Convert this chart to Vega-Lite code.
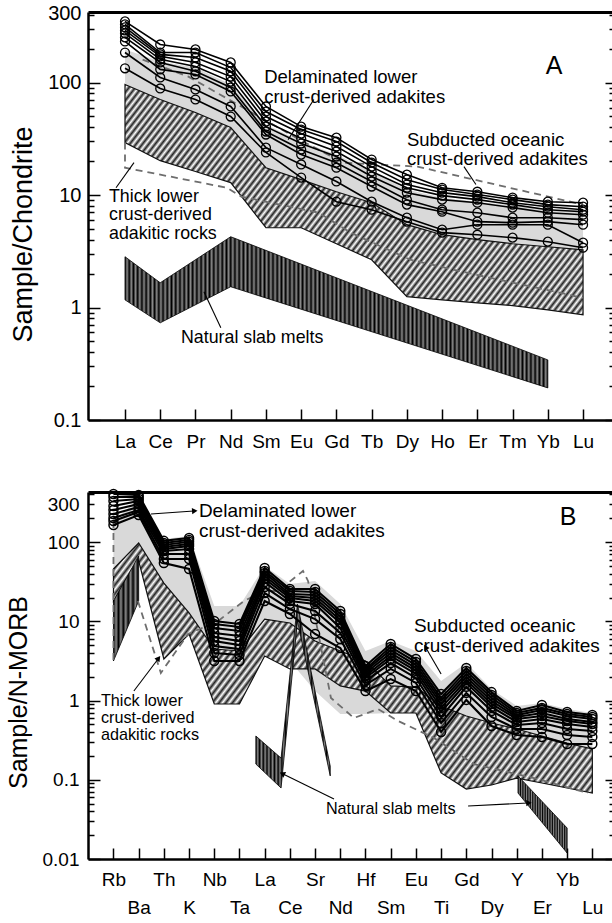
{
"$schema": "https://vega.github.io/schema/vega-lite/v6.json",
"padding": {"left": 6, "top": 3, "right": 0, "bottom": 0},
"spacing": 34,
"config": {"view": {"stroke": null}, "font": "Liberation Sans",
  "axis": {"grid": false, "labelFont": "Liberation Sans", "titleFont": "Liberation Sans", "labelColor": "#000", "titleColor": "#000", "domainColor": "#000", "tickColor": "#000", "titleFontWeight": "normal", "zindex": 1, "labelOverlap": false, "labelFlush": false}},
"datasets": {
 "aS": [
  {"i":1,"el":"La","s1":350,"s2":329,"s3":310,"s4":291,"s5":274,"s6":252,"s7":232,"s8":185,"s9":134},
  {"i":2,"el":"Ce","s1":218,"s2":185,"s3":178,"s4":171,"s5":161,"s6":151,"s7":131,"s8":111,"s9":88.6},
  {"i":3,"el":"Pr","s1":197,"s2":185,"s3":167,"s4":151,"s5":139,"s6":126,"s7":118,"s8":86.8,"s9":70.7},
  {"i":4,"el":"Nd","s1":151,"s2":136,"s3":126,"s4":113,"s5":102,"s6":90.4,"s7":83.3,"s8":61.3,"s9":49.9},
  {"i":5,"el":"Sm","s1":61.3,"s2":55.3,"s3":49.9,"s4":45,"s5":40.6,"s6":36.7,"s7":34.5,"s8":26.4,"s9":23.9},
  {"i":6,"el":"Eu","s1":40.6,"s2":38.2,"s3":35.2,"s4":31.8,"s5":28.7,"s6":25.4,"s7":22.9,"s8":18.7,"s9":14.3},
  {"i":7,"el":"Gd","s1":32.4,"s2":29.9,"s3":27,"s4":24.4,"s5":22,"s6":19.4,"s7":17.5,"s8":13.2,"s9":8.73},
  {"i":8,"el":"Tb","s1":20.7,"s2":19.4,"s3":17.9,"s4":16.2,"s5":14.6,"s6":13.2,"s7":11.9,"s8":8.73,"s9":7.41},
  {"i":9,"el":"Dy","s1":15.2,"s2":13.7,"s3":12.4,"s4":11.6,"s5":10.5,"s6":9.1,"s7":8.22,"s8":6.29,"s9":5.8},
  {"i":10,"el":"Ho","s1":11.6,"s2":11.2,"s3":10.5,"s4":9.88,"s5":9.1,"s6":7.41,"s7":7.11,"s8":4.92,"s9":4.63},
  {"i":11,"el":"Er","s1":10.7,"s2":10.1,"s3":9.68,"s4":9.1,"s5":8.55,"s6":6.97,"s7":5.8,"s8":5.45,"s9":4.44},
  {"i":12,"el":"Tm","s1":9.48,"s2":9.1,"s3":8.55,"s4":8.22,"s5":7.73,"s6":6.29,"s7":5.68,"s8":5.45,"s9":4.18},
  {"i":13,"el":"Yb","s1":8.73,"s2":8.22,"s3":7.88,"s4":7.41,"s5":6.97,"s6":6.29,"s7":5.8,"s8":5.45,"s9":3.85},
  {"i":14,"el":"Lu","s1":8.55,"s2":7.88,"s3":7.41,"s4":7.11,"s5":6.69,"s6":6.04,"s7":5.45,"s8":3.77,"s9":3.4}
 ],
 "aGray": [
  {"i":1,"v":197,"v2":96.2},{"i":2,"v":154,"v2":70.7},{"i":3,"v":136,"v2":54.2},{"i":4,"v":96.2,"v2":39.8},
  {"i":5,"v":42.4,"v2":17.5},{"i":6,"v":29.9,"v2":13.7},{"i":7,"v":22.9,"v2":10.7},{"i":8,"v":16.2,"v2":8.55},
  {"i":9,"v":11.2,"v2":5.45},{"i":10,"v":9.48,"v2":4.44},{"i":11,"v":8.73,"v2":4.01},{"i":12,"v":8.05,"v2":3.69},
  {"i":13,"v":7.41,"v2":3.47},{"i":14,"v":7.41,"v2":3.26}
 ],
 "aHatch": [
  {"i":1,"v":96.2,"v2":29.3},{"i":2,"v":70.7,"v2":20.2},{"i":3,"v":54.2,"v2":16.2},{"i":4,"v":39.8,"v2":12.9},
  {"i":5,"v":17.5,"v2":5.12},{"i":6,"v":13.7,"v2":5.12},{"i":7,"v":10.7,"v2":3.69},{"i":8,"v":8.55,"v2":2.66},
  {"i":9,"v":5.45,"v2":1.25},{"i":10,"v":4.44,"v2":1.17},{"i":11,"v":4.01,"v2":1.1},{"i":12,"v":3.69,"v2":1.04},
  {"i":13,"v":3.47,"v2":0.953},{"i":14,"v":3.26,"v2":0.861}
 ],
 "aSlab": [
  {"i":1,"v":2.83,"v2":1.17},{"i":2,"v":1.66,"v2":0.731},{"i":4,"v":4.26,"v2":1.53},{"i":13,"v":0.342,"v2":0.193}
 ],
 "aDash": [
  {"p":1,"o":1,"i":1,"v":29.3},{"p":1,"o":2,"i":1,"v":17.5},{"p":1,"o":3,"i":3.9,"v":11.6},{"p":1,"o":4,"i":4.3,"v":9.68},
  {"p":1,"o":5,"i":6.5,"v":6.97},{"p":1,"o":6,"i":7.4,"v":4.63},{"p":1,"o":7,"i":9.1,"v":2.66},{"p":1,"o":8,"i":10.7,"v":2.04},
  {"p":1,"o":9,"i":14,"v":1.22},
  {"p":2,"o":1,"i":1.5,"v":160},{"p":2,"o":2,"i":2.8,"v":113},{"p":2,"o":3,"i":6,"v":30.5},{"p":2,"o":4,"i":7.2,"v":19.4},
  {"p":2,"o":5,"i":9.3,"v":17.9},{"p":2,"o":6,"i":14,"v":8.22}
 ],
 "aText1": [
  {"i":4.95,"v":111,"t":"Delaminated lower"},
  {"i":4.95,"v":74.4,"t":"crust-derived adakites"},
  {"i":9.0,"v":31.1,"t":"Subducted oceanic"},
  {"i":9.0,"v":21.1,"t":"crust-derived adakites"}
 ],
 "aText2": [
  {"i":0.546,"v":9.68,"t":"Thick lower"},
  {"i":0.546,"v":6.6,"t":"crust-derived"},
  {"i":0.546,"v":4.48,"t":"adakitic rocks"},
  {"i":2.59,"v":0.537,"t":"Natural slab melts"}
 ],
 "aRule": [
  {"i":6.36,"v":70.7,"i2":5.63,"v2":31.1},
  {"i":10.62,"v":17.9,"i2":10.96,"v2":12.4},
  {"i":0.745,"v":11.6,"i2":1.255,"v2":19.4},
  {"i":3.72,"v":0.66,"i2":3.24,"v2":1.38}
 ],
 "bS": [
  {"i":1,"el":"Rb","s1":406,"s2":372,"s3":331,"s4":286,"s5":255,"s6":227,"s7":202,"s8":185,"s9":165},
  {"i":2,"el":"Ba","s1":394,"s2":372,"s3":351,"s4":331,"s5":303,"s6":278,"s7":255,"s8":241,"s9":220},
  {"i":3,"el":"Th","s1":104,"s2":97.7,"s3":92.2,"s4":87,"s5":82,"s6":77.4,"s7":71,"s8":61.4,"s9":54.6},
  {"i":4,"el":"K","s1":113,"s2":107,"s3":101,"s4":94.9,"s5":89.5,"s6":82,"s7":71,"s8":61.4,"s9":45.9},
  {"i":5,"el":"Nb","s1":10.1,"s2":9.27,"s3":8.26,"s4":7.14,"s5":6.35,"s6":5.66,"s7":4.89,"s8":3.99,"s9":3.16},
  {"i":6,"el":"Ta","s1":9.27,"s2":8.5,"s3":7.57,"s4":6.54,"s5":5.66,"s6":5.03,"s7":4.48,"s8":3.77,"s9":3.16},
  {"i":7,"el":"La","s1":47.2,"s2":43.3,"s3":40.8,"s4":37.4,"s5":34.3,"s6":31.4,"s7":27.2,"s8":22.8,"s9":18.1},
  {"i":8,"el":"Ce","s1":25.6,"s2":24.2,"s3":22.2,"s4":20.9,"s5":19.7,"s6":18.1,"s7":16.6,"s8":14.3,"s9":12.4},
  {"i":9,"el":"Sr","s1":25.6,"s2":23.5,"s3":21.5,"s4":19.7,"s5":18.1,"s6":16.6,"s7":13.5,"s8":10.7,"s9":6.93},
  {"i":10,"el":"Nd","s1":13.5,"s2":12.4,"s3":11.4,"s4":10.4,"s5":9.55,"s6":8.26,"s7":7.14,"s8":6,"s9":4.61},
  {"i":11,"el":"Hf","s1":2.73,"s2":2.51,"s3":2.37,"s4":2.23,"s5":2.05,"s6":1.93,"s7":1.77,"s8":1.57,"s9":1.32},
  {"i":12,"el":"Sm","s1":5.19,"s2":4.75,"s3":4.35,"s4":3.99,"s5":3.66,"s6":3.35,"s7":2.98,"s8":2.51,"s9":1.87},
  {"i":13,"el":"Eu","s1":3.35,"s2":3.07,"s3":2.81,"s4":2.58,"s5":2.37,"s6":2.17,"s7":1.93,"s8":1.67,"s9":1.32},
  {"i":14,"el":"Ti","s1":1.21,"s2":1.08,"s3":0.99,"s4":0.906,"s5":0.808,"s6":0.718,"s7":0.621,"s8":0.521,"s9":0.402},
  {"i":15,"el":"Gd","s1":2.58,"s2":2.37,"s3":2.17,"s4":1.99,"s5":1.82,"s6":1.67,"s7":1.49,"s8":1.25,"s9":1.02},
  {"i":16,"el":"Dy","s1":1.28,"s2":1.18,"s3":1.08,"s4":0.99,"s5":0.906,"s6":0.83,"s7":0.74,"s8":0.621,"s9":0.478},
  {"i":17,"el":"Y","s1":0.74,"s2":0.697,"s3":0.657,"s4":0.621,"s5":0.586,"s6":0.537,"s7":0.492,"s8":0.438,"s9":0.368},
  {"i":18,"el":"Er","s1":0.879,"s2":0.808,"s3":0.76,"s4":0.697,"s5":0.64,"s6":0.586,"s7":0.521,"s8":0.438,"s9":0.347},
  {"i":19,"el":"Yb","s1":0.718,"s2":0.677,"s3":0.64,"s4":0.586,"s5":0.552,"s6":0.507,"s7":0.438,"s8":0.368,"s9":0.283},
  {"i":20,"el":"Lu","s1":0.657,"s2":0.621,"s3":0.586,"s4":0.537,"s5":0.507,"s6":0.465,"s7":0.413,"s8":0.347,"s9":0.283}
 ],
 "bGray": [
  {"i":1,"v":185,"v2":18.1},{"i":2,"v":351,"v2":57.9},{"i":3,"v":110,"v2":18.1},{"i":4,"v":120,"v2":7.56},
  {"i":5,"v":15.6,"v2":2.73},{"i":6,"v":15.6,"v2":2.73},{"i":7,"v":50.1,"v2":5.66},{"i":8,"v":29.7,"v2":3.16},
  {"i":9,"v":32.4,"v2":1.32},{"i":10,"v":16.6,"v2":0.677},{"i":11,"v":4.23,"v2":0.677},{"i":12,"v":5.66,"v2":0.697},
  {"i":13,"v":4.23,"v2":0.697},{"i":14,"v":1.77,"v2":0.639},{"i":15,"v":2.98,"v2":0.639},{"i":16,"v":1.4,"v2":0.478},
  {"i":17,"v":0.855,"v2":0.357},{"i":18,"v":0.933,"v2":0.309},{"i":19,"v":0.783,"v2":0.267},{"i":20,"v":0.697,"v2":0.231}
 ],
 "bHatch": [
  {"i":1,"v":45.9,"v2":18.1},{"i":2,"v":97.7,"v2":57.9},{"i":3,"v":30.5,"v2":3.35},{"i":4,"v":12.8,"v2":6.93},
  {"i":5,"v":4.48,"v2":0.906},{"i":6,"v":4.23,"v2":0.906},{"i":7,"v":10.7,"v2":3.66},{"i":8,"v":9.55,"v2":2.51},
  {"i":9,"v":5.66,"v2":2.51},{"i":10,"v":4.23,"v2":1.53},{"i":11,"v":3.16,"v2":1.32},{"i":12,"v":1.53,"v2":0.697},
  {"i":13,"v":1.48,"v2":0.697},{"i":14,"v":0.855,"v2":0.122},{"i":15,"v":0.639,"v2":0.0765},{"i":16,"v":0.521,"v2":0.086},
  {"i":17,"v":0.438,"v2":0.105},{"i":18,"v":0.357,"v2":0.0911},{"i":19,"v":0.291,"v2":0.0788},{"i":20,"v":0.245,"v2":0.0681}
 ],
 "bSlab": [
  {"p":1,"i":1,"v":18.1,"v2":3.16},{"p":1,"i":2,"v":66.9,"v2":18.1},
  {"p":2,"i":6.65,"v":0.357,"v2":0.158},{"p":2,"i":7.65,"v":0.188,"v2":0.0788},{"p":2,"i":8.3,"v":16.6,"v2":10.1},{"p":2,"i":9.6,"v":0.149,"v2":0.112},
  {"p":3,"i":17.05,"v":0.112,"v2":0.0681},{"p":3,"i":19,"v":0.0246,"v2":0.0119}
 ],
 "bDash": [
  {"p":1,"o":1,"i":1,"v":185},{"p":1,"o":2,"i":1,"v":3.16},
  {"p":2,"o":1,"i":1.97,"v":18.1},{"p":2,"o":2,"i":2.88,"v":2.23},{"p":2,"o":3,"i":3.96,"v":6.93},{"p":2,"o":4,"i":5.15,"v":10.1},
  {"p":2,"o":5,"i":6.18,"v":18.1},{"p":2,"o":6,"i":6.97,"v":24.2},{"p":2,"o":7,"i":7.53,"v":24.2},{"p":2,"o":8,"i":8.52,"v":43.3},
  {"p":2,"o":9,"i":8.72,"v":32.4},{"p":2,"o":10,"i":9.63,"v":1.08},{"p":2,"o":11,"i":10.54,"v":0.603},{"p":2,"o":12,"i":11.5,"v":0.783},
  {"p":2,"o":13,"i":12.29,"v":0.553},{"p":2,"o":14,"i":13.72,"v":0.337},{"p":2,"o":15,"i":15.3,"v":0.158},{"p":2,"o":16,"i":17.68,"v":0.105},
  {"p":2,"o":17,"i":19.83,"v":0.0681}
 ],
 "bText1": [
  {"i":4.39,"v":248,"t":"Delaminated lower"},
  {"i":4.39,"v":138,"t":"crust-derived adakites"},
  {"i":12.92,"v":8.75,"t":"Subducted oceanic"},
  {"i":12.92,"v":4.89,"t":"crust-derived adakites"}
 ],
 "bText2": [
  {"i":0.504,"v":0.988,"t":"Thick lower"},
  {"i":0.504,"v":0.603,"t":"crust-derived"},
  {"i":0.504,"v":0.368,"t":"adakitic rocks"},
  {"i":9.43,"v":0.0428,"t":"Natural slab melts"}
 ],
 "bRule": [
  {"i":2.49,"v":227,"i2":4.19,"v2":248},
  {"i":14.0,"v":2.17,"i2":13.4,"v2":4.61},
  {"i":1.81,"v":1.32,"i2":2.77,"v2":3.35},
  {"i":9.75,"v":0.0572,"i2":7.73,"v2":0.118},
  {"i":15.07,"v":0.0467,"i2":17.45,"v2":0.0509}
 ]
},
"vconcat": [
 {
  "width": 525, "height": 408,
  "encoding": {
   "x": {"field": "i", "type": "quantitative", "scale": {"domain": [-0.05, 14.85], "nice": false, "zero": false}, "axis": null},
   "y": {"field": "v", "type": "quantitative", "scale": {"type": "log", "domain": [0.1, 424], "nice": false}, "axis": null}
  },
  "layer": [
   {"data": {"name": "aGray"}, "mark": {"type": "area", "fill": "#d9d9d9"},
    "encoding": {
     "x": {"field": "i", "type": "quantitative", "scale": {"domain": [-0.05, 14.85], "nice": false, "zero": false},
       "axis": {"orient": "bottom", "values": [1,2,3,4,5,6,7,8,9,10,11,12,13,14], "labelExpr": "['La','Ce','Pr','Nd','Sm','Eu','Gd','Tb','Dy','Ho','Er','Tm','Yb','Lu'][datum.value-1]", "tickSize": -11, "tickWidth": 1.5, "labelPadding": 23, "labelFontSize": 19, "domainWidth": 2.5, "title": null}},
     "y": {"field": "v", "type": "quantitative", "scale": {"type": "log", "domain": [0.1, 424], "nice": false},
       "axis": {"orient": "left", "values": [0.1,0.2,0.3,0.4,0.5,0.6,0.7,0.8,0.9,1,2,3,4,5,6,7,8,9,10,20,30,40,50,60,70,80,90,100,200,300,400],
         "labelExpr": "(abs(log(datum.value)/LN10-round(log(datum.value)/LN10))<0.001||datum.value==300)?format(datum.value,'~g'):''",
         "tickSize": {"condition": {"test": "abs(log(datum.value)/LN10-round(log(datum.value)/LN10))<0.001", "value": -12}, "value": -6},
         "labelPadding": {"condition": {"test": "abs(log(datum.value)/LN10-round(log(datum.value)/LN10))<0.001", "value": 19}, "value": 13},
         "labelOffset": {"condition": {"test": "datum.value==300", "value": -15}, "value": 0},
         "labelFontSize": 20, "tickWidth": 1.5, "domainWidth": 2.5,
         "title": "Sample/Chondrite", "titleFontSize": 27, "titleX": -51, "titleY": 222}},
     "y2": {"field": "v2"}
    }},
   {"data": {"name": "aHatch"}, "mark": {"type": "area", "stroke": "#111", "strokeWidth": 1.2,
     "fill": {"gradient": "linear", "x1": 0, "y1": 0, "x2": 1.206, "y2": 0.47, "stops": [
      {"offset":0,"color":"#222"},{"offset":0.005,"color":"#fff"},{"offset":0.01,"color":"#222"},{"offset":0.015,"color":"#fff"},{"offset":0.02,"color":"#222"},{"offset":0.025,"color":"#fff"},{"offset":0.03,"color":"#222"},{"offset":0.035,"color":"#fff"},{"offset":0.04,"color":"#222"},{"offset":0.045,"color":"#fff"},
      {"offset":0.05,"color":"#222"},{"offset":0.055,"color":"#fff"},{"offset":0.06,"color":"#222"},{"offset":0.065,"color":"#fff"},{"offset":0.07,"color":"#222"},{"offset":0.075,"color":"#fff"},{"offset":0.08,"color":"#222"},{"offset":0.085,"color":"#fff"},{"offset":0.09,"color":"#222"},{"offset":0.095,"color":"#fff"},
      {"offset":0.1,"color":"#222"},{"offset":0.105,"color":"#fff"},{"offset":0.11,"color":"#222"},{"offset":0.115,"color":"#fff"},{"offset":0.12,"color":"#222"},{"offset":0.125,"color":"#fff"},{"offset":0.13,"color":"#222"},{"offset":0.135,"color":"#fff"},{"offset":0.14,"color":"#222"},{"offset":0.145,"color":"#fff"},
      {"offset":0.15,"color":"#222"},{"offset":0.155,"color":"#fff"},{"offset":0.16,"color":"#222"},{"offset":0.165,"color":"#fff"},{"offset":0.17,"color":"#222"},{"offset":0.175,"color":"#fff"},{"offset":0.18,"color":"#222"},{"offset":0.185,"color":"#fff"},{"offset":0.19,"color":"#222"},{"offset":0.195,"color":"#fff"},
      {"offset":0.2,"color":"#222"},{"offset":0.205,"color":"#fff"},{"offset":0.21,"color":"#222"},{"offset":0.215,"color":"#fff"},{"offset":0.22,"color":"#222"},{"offset":0.225,"color":"#fff"},{"offset":0.23,"color":"#222"},{"offset":0.235,"color":"#fff"},{"offset":0.24,"color":"#222"},{"offset":0.245,"color":"#fff"},
      {"offset":0.25,"color":"#222"},{"offset":0.255,"color":"#fff"},{"offset":0.26,"color":"#222"},{"offset":0.265,"color":"#fff"},{"offset":0.27,"color":"#222"},{"offset":0.275,"color":"#fff"},{"offset":0.28,"color":"#222"},{"offset":0.285,"color":"#fff"},{"offset":0.29,"color":"#222"},{"offset":0.295,"color":"#fff"},
      {"offset":0.3,"color":"#222"},{"offset":0.305,"color":"#fff"},{"offset":0.31,"color":"#222"},{"offset":0.315,"color":"#fff"},{"offset":0.32,"color":"#222"},{"offset":0.325,"color":"#fff"},{"offset":0.33,"color":"#222"},{"offset":0.335,"color":"#fff"},{"offset":0.34,"color":"#222"},{"offset":0.345,"color":"#fff"},
      {"offset":0.35,"color":"#222"},{"offset":0.355,"color":"#fff"},{"offset":0.36,"color":"#222"},{"offset":0.365,"color":"#fff"},{"offset":0.37,"color":"#222"},{"offset":0.375,"color":"#fff"},{"offset":0.38,"color":"#222"},{"offset":0.385,"color":"#fff"},{"offset":0.39,"color":"#222"},{"offset":0.395,"color":"#fff"},
      {"offset":0.4,"color":"#222"},{"offset":0.405,"color":"#fff"},{"offset":0.41,"color":"#222"},{"offset":0.415,"color":"#fff"},{"offset":0.42,"color":"#222"},{"offset":0.425,"color":"#fff"},{"offset":0.43,"color":"#222"},{"offset":0.435,"color":"#fff"},{"offset":0.44,"color":"#222"},{"offset":0.445,"color":"#fff"},
      {"offset":0.45,"color":"#222"},{"offset":0.455,"color":"#fff"},{"offset":0.46,"color":"#222"},{"offset":0.465,"color":"#fff"},{"offset":0.47,"color":"#222"},{"offset":0.475,"color":"#fff"},{"offset":0.48,"color":"#222"},{"offset":0.485,"color":"#fff"},{"offset":0.49,"color":"#222"},{"offset":0.495,"color":"#fff"},
      {"offset":0.5,"color":"#222"},{"offset":0.505,"color":"#fff"},{"offset":0.51,"color":"#222"},{"offset":0.515,"color":"#fff"},{"offset":0.52,"color":"#222"},{"offset":0.525,"color":"#fff"},{"offset":0.53,"color":"#222"},{"offset":0.535,"color":"#fff"},{"offset":0.54,"color":"#222"},{"offset":0.545,"color":"#fff"},
      {"offset":0.55,"color":"#222"},{"offset":0.555,"color":"#fff"},{"offset":0.56,"color":"#222"},{"offset":0.565,"color":"#fff"},{"offset":0.57,"color":"#222"},{"offset":0.575,"color":"#fff"},{"offset":0.58,"color":"#222"},{"offset":0.585,"color":"#fff"},{"offset":0.59,"color":"#222"},{"offset":0.595,"color":"#fff"},
      {"offset":0.6,"color":"#222"},{"offset":0.605,"color":"#fff"},{"offset":0.61,"color":"#222"},{"offset":0.615,"color":"#fff"},{"offset":0.62,"color":"#222"},{"offset":0.625,"color":"#fff"},{"offset":0.63,"color":"#222"},{"offset":0.635,"color":"#fff"},{"offset":0.64,"color":"#222"},{"offset":0.645,"color":"#fff"},
      {"offset":0.65,"color":"#222"},{"offset":0.655,"color":"#fff"},{"offset":0.66,"color":"#222"},{"offset":0.665,"color":"#fff"},{"offset":0.67,"color":"#222"},{"offset":0.675,"color":"#fff"},{"offset":0.68,"color":"#222"},{"offset":0.685,"color":"#fff"},{"offset":0.69,"color":"#222"},{"offset":0.695,"color":"#fff"},
      {"offset":0.7,"color":"#222"},{"offset":0.705,"color":"#fff"},{"offset":0.71,"color":"#222"},{"offset":0.715,"color":"#fff"},{"offset":0.72,"color":"#222"},{"offset":0.725,"color":"#fff"},{"offset":0.73,"color":"#222"},{"offset":0.735,"color":"#fff"},{"offset":0.74,"color":"#222"},{"offset":0.745,"color":"#fff"},
      {"offset":0.75,"color":"#222"},{"offset":0.755,"color":"#fff"},{"offset":0.76,"color":"#222"},{"offset":0.765,"color":"#fff"},{"offset":0.77,"color":"#222"},{"offset":0.775,"color":"#fff"},{"offset":0.78,"color":"#222"},{"offset":0.785,"color":"#fff"},{"offset":0.79,"color":"#222"},{"offset":0.795,"color":"#fff"},
      {"offset":0.8,"color":"#222"},{"offset":0.805,"color":"#fff"},{"offset":0.81,"color":"#222"},{"offset":0.815,"color":"#fff"},{"offset":0.82,"color":"#222"},{"offset":0.825,"color":"#fff"},{"offset":0.83,"color":"#222"},{"offset":0.835,"color":"#fff"},{"offset":0.84,"color":"#222"},{"offset":0.845,"color":"#fff"},
      {"offset":0.85,"color":"#222"},{"offset":0.855,"color":"#fff"},{"offset":0.86,"color":"#222"},{"offset":0.865,"color":"#fff"},{"offset":0.87,"color":"#222"},{"offset":0.875,"color":"#fff"},{"offset":0.88,"color":"#222"},{"offset":0.885,"color":"#fff"},{"offset":0.89,"color":"#222"},{"offset":0.895,"color":"#fff"},
      {"offset":0.9,"color":"#222"},{"offset":0.905,"color":"#fff"},{"offset":0.91,"color":"#222"},{"offset":0.915,"color":"#fff"},{"offset":0.92,"color":"#222"},{"offset":0.925,"color":"#fff"},{"offset":0.93,"color":"#222"},{"offset":0.935,"color":"#fff"},{"offset":0.94,"color":"#222"},{"offset":0.945,"color":"#fff"},
      {"offset":0.95,"color":"#222"},{"offset":0.955,"color":"#fff"},{"offset":0.96,"color":"#222"},{"offset":0.965,"color":"#fff"},{"offset":0.97,"color":"#222"},{"offset":0.975,"color":"#fff"},{"offset":0.98,"color":"#222"},{"offset":0.985,"color":"#fff"},{"offset":0.99,"color":"#222"},{"offset":0.995,"color":"#fff"},
      {"offset":1,"color":"#222"}]}},
    "encoding": {
     "x": {"field": "i", "type": "quantitative", "scale": {"domain": [-0.05, 14.85], "nice": false, "zero": false},
       "axis": {"orient": "top", "ticks": false, "labels": false, "domainWidth": 3, "title": null}},
     "y": {"field": "v", "type": "quantitative", "scale": {"type": "log", "domain": [0.1, 424], "nice": false},
       "axis": {"orient": "right", "values": [0.1,0.2,0.3,0.4,0.5,0.6,0.7,0.8,0.9,1,2,3,4,5,6,7,8,9,10,20,30,40,50,60,70,80,90,100,200,300,400],
         "labels": false, "domain": false, "tickWidth": 1.5, "title": null,
         "tickSize": {"condition": {"test": "abs(log(datum.value)/LN10-round(log(datum.value)/LN10))<0.001", "value": -8}, "value": -4}}},
     "y2": {"field": "v2"}
    }},
   {"data": {"name": "aSlab"}, "mark": {"type": "area", "stroke": "#000", "strokeWidth": 0.8,
     "fill": {"gradient": "linear", "x1": 0, "y1": 0, "x2": 1, "y2": 0, "stops": [
      {"offset":0,"color":"#000"},{"offset":0.005,"color":"#8a8a8a"},{"offset":0.01,"color":"#000"},{"offset":0.015,"color":"#8a8a8a"},{"offset":0.02,"color":"#000"},{"offset":0.025,"color":"#8a8a8a"},{"offset":0.03,"color":"#000"},{"offset":0.035,"color":"#8a8a8a"},{"offset":0.04,"color":"#000"},{"offset":0.045,"color":"#8a8a8a"},
      {"offset":0.05,"color":"#000"},{"offset":0.055,"color":"#8a8a8a"},{"offset":0.06,"color":"#000"},{"offset":0.065,"color":"#8a8a8a"},{"offset":0.07,"color":"#000"},{"offset":0.075,"color":"#8a8a8a"},{"offset":0.08,"color":"#000"},{"offset":0.085,"color":"#8a8a8a"},{"offset":0.09,"color":"#000"},{"offset":0.095,"color":"#8a8a8a"},
      {"offset":0.1,"color":"#000"},{"offset":0.105,"color":"#8a8a8a"},{"offset":0.11,"color":"#000"},{"offset":0.115,"color":"#8a8a8a"},{"offset":0.12,"color":"#000"},{"offset":0.125,"color":"#8a8a8a"},{"offset":0.13,"color":"#000"},{"offset":0.135,"color":"#8a8a8a"},{"offset":0.14,"color":"#000"},{"offset":0.145,"color":"#8a8a8a"},
      {"offset":0.15,"color":"#000"},{"offset":0.155,"color":"#8a8a8a"},{"offset":0.16,"color":"#000"},{"offset":0.165,"color":"#8a8a8a"},{"offset":0.17,"color":"#000"},{"offset":0.175,"color":"#8a8a8a"},{"offset":0.18,"color":"#000"},{"offset":0.185,"color":"#8a8a8a"},{"offset":0.19,"color":"#000"},{"offset":0.195,"color":"#8a8a8a"},
      {"offset":0.2,"color":"#000"},{"offset":0.205,"color":"#8a8a8a"},{"offset":0.21,"color":"#000"},{"offset":0.215,"color":"#8a8a8a"},{"offset":0.22,"color":"#000"},{"offset":0.225,"color":"#8a8a8a"},{"offset":0.23,"color":"#000"},{"offset":0.235,"color":"#8a8a8a"},{"offset":0.24,"color":"#000"},{"offset":0.245,"color":"#8a8a8a"},
      {"offset":0.25,"color":"#000"},{"offset":0.255,"color":"#8a8a8a"},{"offset":0.26,"color":"#000"},{"offset":0.265,"color":"#8a8a8a"},{"offset":0.27,"color":"#000"},{"offset":0.275,"color":"#8a8a8a"},{"offset":0.28,"color":"#000"},{"offset":0.285,"color":"#8a8a8a"},{"offset":0.29,"color":"#000"},{"offset":0.295,"color":"#8a8a8a"},
      {"offset":0.3,"color":"#000"},{"offset":0.305,"color":"#8a8a8a"},{"offset":0.31,"color":"#000"},{"offset":0.315,"color":"#8a8a8a"},{"offset":0.32,"color":"#000"},{"offset":0.325,"color":"#8a8a8a"},{"offset":0.33,"color":"#000"},{"offset":0.335,"color":"#8a8a8a"},{"offset":0.34,"color":"#000"},{"offset":0.345,"color":"#8a8a8a"},
      {"offset":0.35,"color":"#000"},{"offset":0.355,"color":"#8a8a8a"},{"offset":0.36,"color":"#000"},{"offset":0.365,"color":"#8a8a8a"},{"offset":0.37,"color":"#000"},{"offset":0.375,"color":"#8a8a8a"},{"offset":0.38,"color":"#000"},{"offset":0.385,"color":"#8a8a8a"},{"offset":0.39,"color":"#000"},{"offset":0.395,"color":"#8a8a8a"},
      {"offset":0.4,"color":"#000"},{"offset":0.405,"color":"#8a8a8a"},{"offset":0.41,"color":"#000"},{"offset":0.415,"color":"#8a8a8a"},{"offset":0.42,"color":"#000"},{"offset":0.425,"color":"#8a8a8a"},{"offset":0.43,"color":"#000"},{"offset":0.435,"color":"#8a8a8a"},{"offset":0.44,"color":"#000"},{"offset":0.445,"color":"#8a8a8a"},
      {"offset":0.45,"color":"#000"},{"offset":0.455,"color":"#8a8a8a"},{"offset":0.46,"color":"#000"},{"offset":0.465,"color":"#8a8a8a"},{"offset":0.47,"color":"#000"},{"offset":0.475,"color":"#8a8a8a"},{"offset":0.48,"color":"#000"},{"offset":0.485,"color":"#8a8a8a"},{"offset":0.49,"color":"#000"},{"offset":0.495,"color":"#8a8a8a"},
      {"offset":0.5,"color":"#000"},{"offset":0.505,"color":"#8a8a8a"},{"offset":0.51,"color":"#000"},{"offset":0.515,"color":"#8a8a8a"},{"offset":0.52,"color":"#000"},{"offset":0.525,"color":"#8a8a8a"},{"offset":0.53,"color":"#000"},{"offset":0.535,"color":"#8a8a8a"},{"offset":0.54,"color":"#000"},{"offset":0.545,"color":"#8a8a8a"},
      {"offset":0.55,"color":"#000"},{"offset":0.555,"color":"#8a8a8a"},{"offset":0.56,"color":"#000"},{"offset":0.565,"color":"#8a8a8a"},{"offset":0.57,"color":"#000"},{"offset":0.575,"color":"#8a8a8a"},{"offset":0.58,"color":"#000"},{"offset":0.585,"color":"#8a8a8a"},{"offset":0.59,"color":"#000"},{"offset":0.595,"color":"#8a8a8a"},
      {"offset":0.6,"color":"#000"},{"offset":0.605,"color":"#8a8a8a"},{"offset":0.61,"color":"#000"},{"offset":0.615,"color":"#8a8a8a"},{"offset":0.62,"color":"#000"},{"offset":0.625,"color":"#8a8a8a"},{"offset":0.63,"color":"#000"},{"offset":0.635,"color":"#8a8a8a"},{"offset":0.64,"color":"#000"},{"offset":0.645,"color":"#8a8a8a"},
      {"offset":0.65,"color":"#000"},{"offset":0.655,"color":"#8a8a8a"},{"offset":0.66,"color":"#000"},{"offset":0.665,"color":"#8a8a8a"},{"offset":0.67,"color":"#000"},{"offset":0.675,"color":"#8a8a8a"},{"offset":0.68,"color":"#000"},{"offset":0.685,"color":"#8a8a8a"},{"offset":0.69,"color":"#000"},{"offset":0.695,"color":"#8a8a8a"},
      {"offset":0.7,"color":"#000"},{"offset":0.705,"color":"#8a8a8a"},{"offset":0.71,"color":"#000"},{"offset":0.715,"color":"#8a8a8a"},{"offset":0.72,"color":"#000"},{"offset":0.725,"color":"#8a8a8a"},{"offset":0.73,"color":"#000"},{"offset":0.735,"color":"#8a8a8a"},{"offset":0.74,"color":"#000"},{"offset":0.745,"color":"#8a8a8a"},
      {"offset":0.75,"color":"#000"},{"offset":0.755,"color":"#8a8a8a"},{"offset":0.76,"color":"#000"},{"offset":0.765,"color":"#8a8a8a"},{"offset":0.77,"color":"#000"},{"offset":0.775,"color":"#8a8a8a"},{"offset":0.78,"color":"#000"},{"offset":0.785,"color":"#8a8a8a"},{"offset":0.79,"color":"#000"},{"offset":0.795,"color":"#8a8a8a"},
      {"offset":0.8,"color":"#000"},{"offset":0.805,"color":"#8a8a8a"},{"offset":0.81,"color":"#000"},{"offset":0.815,"color":"#8a8a8a"},{"offset":0.82,"color":"#000"},{"offset":0.825,"color":"#8a8a8a"},{"offset":0.83,"color":"#000"},{"offset":0.835,"color":"#8a8a8a"},{"offset":0.84,"color":"#000"},{"offset":0.845,"color":"#8a8a8a"},
      {"offset":0.85,"color":"#000"},{"offset":0.855,"color":"#8a8a8a"},{"offset":0.86,"color":"#000"},{"offset":0.865,"color":"#8a8a8a"},{"offset":0.87,"color":"#000"},{"offset":0.875,"color":"#8a8a8a"},{"offset":0.88,"color":"#000"},{"offset":0.885,"color":"#8a8a8a"},{"offset":0.89,"color":"#000"},{"offset":0.895,"color":"#8a8a8a"},
      {"offset":0.9,"color":"#000"},{"offset":0.905,"color":"#8a8a8a"},{"offset":0.91,"color":"#000"},{"offset":0.915,"color":"#8a8a8a"},{"offset":0.92,"color":"#000"},{"offset":0.925,"color":"#8a8a8a"},{"offset":0.93,"color":"#000"},{"offset":0.935,"color":"#8a8a8a"},{"offset":0.94,"color":"#000"},{"offset":0.945,"color":"#8a8a8a"},
      {"offset":0.95,"color":"#000"},{"offset":0.955,"color":"#8a8a8a"},{"offset":0.96,"color":"#000"},{"offset":0.965,"color":"#8a8a8a"},{"offset":0.97,"color":"#000"},{"offset":0.975,"color":"#8a8a8a"},{"offset":0.98,"color":"#000"},{"offset":0.985,"color":"#8a8a8a"},{"offset":0.99,"color":"#000"},{"offset":0.995,"color":"#8a8a8a"},
      {"offset":1,"color":"#000"}]}},
    "encoding": {"y2": {"field": "v2"}}},
   {"data": {"name": "aDash"}, "mark": {"type": "line", "stroke": "#6e6e6e", "strokeWidth": 1.8, "strokeDash": [7, 5]},
    "encoding": {"detail": {"field": "p"}, "order": {"field": "o"}}},
   {"data": {"name": "aS"}, "transform": [{"fold": ["s1","s2","s3","s4","s5","s6","s7","s8","s9"], "as": ["s", "v"]}],
    "layer": [
     {"mark": {"type": "line", "stroke": "#000", "strokeWidth": 1.6}, "encoding": {"detail": {"field": "s"}}},
     {"mark": {"type": "point", "shape": "circle", "size": 80, "filled": false, "stroke": "#000", "strokeWidth": 1.3, "opacity": 1}, "encoding": {"detail": {"field": "s"}}}
    ]},
   {"data": {"name": "aRule"}, "mark": {"type": "rule", "stroke": "#000", "strokeWidth": 1.1},
    "encoding": {"x2": {"field": "i2"}, "y2": {"field": "v2"}}},
   {"data": {"name": "aText1"}, "mark": {"type": "text", "align": "left", "baseline": "middle", "fontSize": 18.5, "font": "Liberation Sans", "color": "#000"},
    "encoding": {"text": {"field": "t"}}},
   {"data": {"name": "aText2"}, "mark": {"type": "text", "align": "left", "baseline": "middle", "fontSize": 17.8, "font": "Liberation Sans", "color": "#000"},
    "encoding": {"text": {"field": "t"}}},
   {"data": {"values": [{"i": 13.18, "v": 139, "t": "A"}]}, "mark": {"type": "text", "align": "center", "baseline": "middle", "fontSize": 25, "font": "Liberation Sans", "color": "#000"},
    "encoding": {"text": {"field": "t"}}}
  ],
  "resolve": {"axis": {"x": "independent", "y": "independent"}}
 },
 {
  "width": 525, "height": 367,
  "encoding": {
   "x": {"field": "i", "type": "quantitative", "scale": {"domain": [-0.01, 20.82], "nice": false, "zero": false}, "axis": null},
   "y": {"field": "v", "type": "quantitative", "scale": {"type": "log", "domain": [0.01, 430], "nice": false}, "axis": null}
  },
  "layer": [
   {"data": {"name": "bGray"}, "mark": {"type": "area", "fill": "#d9d9d9"},
    "encoding": {
     "x": {"field": "i", "type": "quantitative", "scale": {"domain": [-0.01, 20.82], "nice": false, "zero": false},
       "axis": {"orient": "bottom", "values": [1,2,3,4,5,6,7,8,9,10,11,12,13,14,15,16,17,18,19,20], "labelExpr": "['Rb','Ba','Th','K','Nb','Ta','La','Ce','Sr','Nd','Hf','Sm','Eu','Ti','Gd','Dy','Y','Er','Yb','Lu'][datum.value-1]", "tickSize": -11, "tickWidth": 1.5,
         "labelPadding": {"condition": {"test": "datum.value%2==1", "value": 22}, "value": 50}, "labelFontSize": 19, "domainWidth": 2.5, "title": null}},
     "y": {"field": "v", "type": "quantitative", "scale": {"type": "log", "domain": [0.01, 430], "nice": false},
       "axis": {"orient": "left", "values": [0.01,0.02,0.03,0.04,0.05,0.06,0.07,0.08,0.09,0.1,0.2,0.3,0.4,0.5,0.6,0.7,0.8,0.9,1,2,3,4,5,6,7,8,9,10,20,30,40,50,60,70,80,90,100,200,300,400],
         "labelExpr": "(abs(log(datum.value)/LN10-round(log(datum.value)/LN10))<0.001||datum.value==300)?format(datum.value,'~g'):''",
         "tickSize": {"condition": {"test": "abs(log(datum.value)/LN10-round(log(datum.value)/LN10))<0.001", "value": -12}, "value": -6},
         "labelPadding": {"condition": {"test": "abs(log(datum.value)/LN10-round(log(datum.value)/LN10))<0.001", "value": 21}, "value": 15},
         "labelFontSize": 19, "tickWidth": 1.5, "domainWidth": 2.5,
         "title": "Sample/N-MORB", "titleFontSize": 25, "titleX": -57, "titleY": 200}},
     "y2": {"field": "v2"}
    }},
   {"data": {"name": "bHatch"}, "mark": {"type": "area", "stroke": "#111", "strokeWidth": 1.2,
     "fill": {"gradient": "linear", "x1": 0, "y1": 0, "x2": 1.206, "y2": 0.48, "stops": [
      {"offset":0,"color":"#222"},{"offset":0.005,"color":"#fff"},{"offset":0.01,"color":"#222"},{"offset":0.015,"color":"#fff"},{"offset":0.02,"color":"#222"},{"offset":0.025,"color":"#fff"},{"offset":0.03,"color":"#222"},{"offset":0.035,"color":"#fff"},{"offset":0.04,"color":"#222"},{"offset":0.045,"color":"#fff"},
      {"offset":0.05,"color":"#222"},{"offset":0.055,"color":"#fff"},{"offset":0.06,"color":"#222"},{"offset":0.065,"color":"#fff"},{"offset":0.07,"color":"#222"},{"offset":0.075,"color":"#fff"},{"offset":0.08,"color":"#222"},{"offset":0.085,"color":"#fff"},{"offset":0.09,"color":"#222"},{"offset":0.095,"color":"#fff"},
      {"offset":0.1,"color":"#222"},{"offset":0.105,"color":"#fff"},{"offset":0.11,"color":"#222"},{"offset":0.115,"color":"#fff"},{"offset":0.12,"color":"#222"},{"offset":0.125,"color":"#fff"},{"offset":0.13,"color":"#222"},{"offset":0.135,"color":"#fff"},{"offset":0.14,"color":"#222"},{"offset":0.145,"color":"#fff"},
      {"offset":0.15,"color":"#222"},{"offset":0.155,"color":"#fff"},{"offset":0.16,"color":"#222"},{"offset":0.165,"color":"#fff"},{"offset":0.17,"color":"#222"},{"offset":0.175,"color":"#fff"},{"offset":0.18,"color":"#222"},{"offset":0.185,"color":"#fff"},{"offset":0.19,"color":"#222"},{"offset":0.195,"color":"#fff"},
      {"offset":0.2,"color":"#222"},{"offset":0.205,"color":"#fff"},{"offset":0.21,"color":"#222"},{"offset":0.215,"color":"#fff"},{"offset":0.22,"color":"#222"},{"offset":0.225,"color":"#fff"},{"offset":0.23,"color":"#222"},{"offset":0.235,"color":"#fff"},{"offset":0.24,"color":"#222"},{"offset":0.245,"color":"#fff"},
      {"offset":0.25,"color":"#222"},{"offset":0.255,"color":"#fff"},{"offset":0.26,"color":"#222"},{"offset":0.265,"color":"#fff"},{"offset":0.27,"color":"#222"},{"offset":0.275,"color":"#fff"},{"offset":0.28,"color":"#222"},{"offset":0.285,"color":"#fff"},{"offset":0.29,"color":"#222"},{"offset":0.295,"color":"#fff"},
      {"offset":0.3,"color":"#222"},{"offset":0.305,"color":"#fff"},{"offset":0.31,"color":"#222"},{"offset":0.315,"color":"#fff"},{"offset":0.32,"color":"#222"},{"offset":0.325,"color":"#fff"},{"offset":0.33,"color":"#222"},{"offset":0.335,"color":"#fff"},{"offset":0.34,"color":"#222"},{"offset":0.345,"color":"#fff"},
      {"offset":0.35,"color":"#222"},{"offset":0.355,"color":"#fff"},{"offset":0.36,"color":"#222"},{"offset":0.365,"color":"#fff"},{"offset":0.37,"color":"#222"},{"offset":0.375,"color":"#fff"},{"offset":0.38,"color":"#222"},{"offset":0.385,"color":"#fff"},{"offset":0.39,"color":"#222"},{"offset":0.395,"color":"#fff"},
      {"offset":0.4,"color":"#222"},{"offset":0.405,"color":"#fff"},{"offset":0.41,"color":"#222"},{"offset":0.415,"color":"#fff"},{"offset":0.42,"color":"#222"},{"offset":0.425,"color":"#fff"},{"offset":0.43,"color":"#222"},{"offset":0.435,"color":"#fff"},{"offset":0.44,"color":"#222"},{"offset":0.445,"color":"#fff"},
      {"offset":0.45,"color":"#222"},{"offset":0.455,"color":"#fff"},{"offset":0.46,"color":"#222"},{"offset":0.465,"color":"#fff"},{"offset":0.47,"color":"#222"},{"offset":0.475,"color":"#fff"},{"offset":0.48,"color":"#222"},{"offset":0.485,"color":"#fff"},{"offset":0.49,"color":"#222"},{"offset":0.495,"color":"#fff"},
      {"offset":0.5,"color":"#222"},{"offset":0.505,"color":"#fff"},{"offset":0.51,"color":"#222"},{"offset":0.515,"color":"#fff"},{"offset":0.52,"color":"#222"},{"offset":0.525,"color":"#fff"},{"offset":0.53,"color":"#222"},{"offset":0.535,"color":"#fff"},{"offset":0.54,"color":"#222"},{"offset":0.545,"color":"#fff"},
      {"offset":0.55,"color":"#222"},{"offset":0.555,"color":"#fff"},{"offset":0.56,"color":"#222"},{"offset":0.565,"color":"#fff"},{"offset":0.57,"color":"#222"},{"offset":0.575,"color":"#fff"},{"offset":0.58,"color":"#222"},{"offset":0.585,"color":"#fff"},{"offset":0.59,"color":"#222"},{"offset":0.595,"color":"#fff"},
      {"offset":0.6,"color":"#222"},{"offset":0.605,"color":"#fff"},{"offset":0.61,"color":"#222"},{"offset":0.615,"color":"#fff"},{"offset":0.62,"color":"#222"},{"offset":0.625,"color":"#fff"},{"offset":0.63,"color":"#222"},{"offset":0.635,"color":"#fff"},{"offset":0.64,"color":"#222"},{"offset":0.645,"color":"#fff"},
      {"offset":0.65,"color":"#222"},{"offset":0.655,"color":"#fff"},{"offset":0.66,"color":"#222"},{"offset":0.665,"color":"#fff"},{"offset":0.67,"color":"#222"},{"offset":0.675,"color":"#fff"},{"offset":0.68,"color":"#222"},{"offset":0.685,"color":"#fff"},{"offset":0.69,"color":"#222"},{"offset":0.695,"color":"#fff"},
      {"offset":0.7,"color":"#222"},{"offset":0.705,"color":"#fff"},{"offset":0.71,"color":"#222"},{"offset":0.715,"color":"#fff"},{"offset":0.72,"color":"#222"},{"offset":0.725,"color":"#fff"},{"offset":0.73,"color":"#222"},{"offset":0.735,"color":"#fff"},{"offset":0.74,"color":"#222"},{"offset":0.745,"color":"#fff"},
      {"offset":0.75,"color":"#222"},{"offset":0.755,"color":"#fff"},{"offset":0.76,"color":"#222"},{"offset":0.765,"color":"#fff"},{"offset":0.77,"color":"#222"},{"offset":0.775,"color":"#fff"},{"offset":0.78,"color":"#222"},{"offset":0.785,"color":"#fff"},{"offset":0.79,"color":"#222"},{"offset":0.795,"color":"#fff"},
      {"offset":0.8,"color":"#222"},{"offset":0.805,"color":"#fff"},{"offset":0.81,"color":"#222"},{"offset":0.815,"color":"#fff"},{"offset":0.82,"color":"#222"},{"offset":0.825,"color":"#fff"},{"offset":0.83,"color":"#222"},{"offset":0.835,"color":"#fff"},{"offset":0.84,"color":"#222"},{"offset":0.845,"color":"#fff"},
      {"offset":0.85,"color":"#222"},{"offset":0.855,"color":"#fff"},{"offset":0.86,"color":"#222"},{"offset":0.865,"color":"#fff"},{"offset":0.87,"color":"#222"},{"offset":0.875,"color":"#fff"},{"offset":0.88,"color":"#222"},{"offset":0.885,"color":"#fff"},{"offset":0.89,"color":"#222"},{"offset":0.895,"color":"#fff"},
      {"offset":0.9,"color":"#222"},{"offset":0.905,"color":"#fff"},{"offset":0.91,"color":"#222"},{"offset":0.915,"color":"#fff"},{"offset":0.92,"color":"#222"},{"offset":0.925,"color":"#fff"},{"offset":0.93,"color":"#222"},{"offset":0.935,"color":"#fff"},{"offset":0.94,"color":"#222"},{"offset":0.945,"color":"#fff"},
      {"offset":0.95,"color":"#222"},{"offset":0.955,"color":"#fff"},{"offset":0.96,"color":"#222"},{"offset":0.965,"color":"#fff"},{"offset":0.97,"color":"#222"},{"offset":0.975,"color":"#fff"},{"offset":0.98,"color":"#222"},{"offset":0.985,"color":"#fff"},{"offset":0.99,"color":"#222"},{"offset":0.995,"color":"#fff"},
      {"offset":1,"color":"#222"}]}},
    "encoding": {
     "x": {"field": "i", "type": "quantitative", "scale": {"domain": [-0.01, 20.82], "nice": false, "zero": false},
       "axis": {"orient": "top", "ticks": false, "labels": false, "domainWidth": 3, "title": null}},
     "y": {"field": "v", "type": "quantitative", "scale": {"type": "log", "domain": [0.01, 430], "nice": false},
       "axis": {"orient": "right", "values": [0.01,0.02,0.03,0.04,0.05,0.06,0.07,0.08,0.09,0.1,0.2,0.3,0.4,0.5,0.6,0.7,0.8,0.9,1,2,3,4,5,6,7,8,9,10,20,30,40,50,60,70,80,90,100,200,300,400],
         "labels": false, "domain": false, "tickWidth": 1.5, "title": null,
         "tickSize": {"condition": {"test": "abs(log(datum.value)/LN10-round(log(datum.value)/LN10))<0.001", "value": -8}, "value": -4}}},
     "y2": {"field": "v2"}
    }},
   {"data": {"name": "bSlab"}, "mark": {"type": "area", "stroke": "#000", "strokeWidth": 0.8,
     "fill": {"gradient": "linear", "x1": 0, "y1": 0, "x2": 1, "y2": 0, "stops": [
      {"offset":0,"color":"#000"},{"offset":0.025,"color":"#8a8a8a"},{"offset":0.05,"color":"#000"},{"offset":0.075,"color":"#8a8a8a"},{"offset":0.1,"color":"#000"},{"offset":0.125,"color":"#8a8a8a"},{"offset":0.15,"color":"#000"},{"offset":0.175,"color":"#8a8a8a"},
      {"offset":0.2,"color":"#000"},{"offset":0.225,"color":"#8a8a8a"},{"offset":0.25,"color":"#000"},{"offset":0.275,"color":"#8a8a8a"},{"offset":0.3,"color":"#000"},{"offset":0.325,"color":"#8a8a8a"},{"offset":0.35,"color":"#000"},{"offset":0.375,"color":"#8a8a8a"},
      {"offset":0.4,"color":"#000"},{"offset":0.425,"color":"#8a8a8a"},{"offset":0.45,"color":"#000"},{"offset":0.475,"color":"#8a8a8a"},{"offset":0.5,"color":"#000"},{"offset":0.525,"color":"#8a8a8a"},{"offset":0.55,"color":"#000"},{"offset":0.575,"color":"#8a8a8a"},
      {"offset":0.6,"color":"#000"},{"offset":0.625,"color":"#8a8a8a"},{"offset":0.65,"color":"#000"},{"offset":0.675,"color":"#8a8a8a"},{"offset":0.7,"color":"#000"},{"offset":0.725,"color":"#8a8a8a"},{"offset":0.75,"color":"#000"},{"offset":0.775,"color":"#8a8a8a"},
      {"offset":0.8,"color":"#000"},{"offset":0.825,"color":"#8a8a8a"},{"offset":0.85,"color":"#000"},{"offset":0.875,"color":"#8a8a8a"},{"offset":0.9,"color":"#000"},{"offset":0.925,"color":"#8a8a8a"},{"offset":0.95,"color":"#000"},{"offset":0.975,"color":"#8a8a8a"},
      {"offset":1,"color":"#000"}]}},
    "encoding": {"y2": {"field": "v2"}, "detail": {"field": "p"}}},
   {"data": {"name": "bDash"}, "mark": {"type": "line", "stroke": "#6e6e6e", "strokeWidth": 1.8, "strokeDash": [7, 5]},
    "encoding": {"detail": {"field": "p"}, "order": {"field": "o"}}},
   {"data": {"name": "bS"}, "transform": [{"fold": ["s1","s2","s3","s4","s5","s6","s7","s8","s9"], "as": ["s", "v"]}],
    "layer": [
     {"mark": {"type": "line", "stroke": "#000", "strokeWidth": 2.1}, "encoding": {"detail": {"field": "s"}}},
     {"mark": {"type": "point", "shape": "circle", "size": 80, "filled": false, "stroke": "#000", "strokeWidth": 1.5, "opacity": 1}, "encoding": {"detail": {"field": "s"}}}
    ]},
   {"data": {"name": "bRule"}, "mark": {"type": "rule", "stroke": "#000", "strokeWidth": 1.1},
    "encoding": {"x2": {"field": "i2"}, "y2": {"field": "v2"}}},
   {"data": {"values": [{"i": 4.19, "v": 248}]}, "mark": {"type": "point", "shape": "triangle", "size": 40, "filled": true, "color": "#000", "angle": 86, "opacity": 1}},
   {"data": {"values": [{"i": 13.4, "v": 4.61}]}, "mark": {"type": "point", "shape": "triangle", "size": 40, "filled": true, "color": "#000", "angle": -30, "opacity": 1}},
   {"data": {"values": [{"i": 2.77, "v": 3.35}]}, "mark": {"type": "point", "shape": "triangle", "size": 40, "filled": true, "color": "#000", "angle": 37, "opacity": 1}},
   {"data": {"values": [{"i": 7.73, "v": 0.118}]}, "mark": {"type": "point", "shape": "triangle", "size": 40, "filled": true, "color": "#000", "angle": -64, "opacity": 1}},
   {"data": {"values": [{"i": 17.45, "v": 0.0509}]}, "mark": {"type": "point", "shape": "triangle", "size": 40, "filled": true, "color": "#000", "angle": 87, "opacity": 1}},
   {"data": {"name": "bText1"}, "mark": {"type": "text", "align": "left", "baseline": "middle", "fontSize": 19, "font": "Liberation Sans", "color": "#000"},
    "encoding": {"text": {"field": "t"}}},
   {"data": {"name": "bText2"}, "mark": {"type": "text", "align": "left", "baseline": "middle", "fontSize": 16.2, "font": "Liberation Sans", "color": "#000"},
    "encoding": {"text": {"field": "t"}}},
   {"data": {"values": [{"i": 19.04, "v": 208, "t": "B"}]}, "mark": {"type": "text", "align": "center", "baseline": "middle", "fontSize": 25, "font": "Liberation Sans", "color": "#000"},
    "encoding": {"text": {"field": "t"}}}
  ],
  "resolve": {"axis": {"x": "independent", "y": "independent"}}
 }
]
}
